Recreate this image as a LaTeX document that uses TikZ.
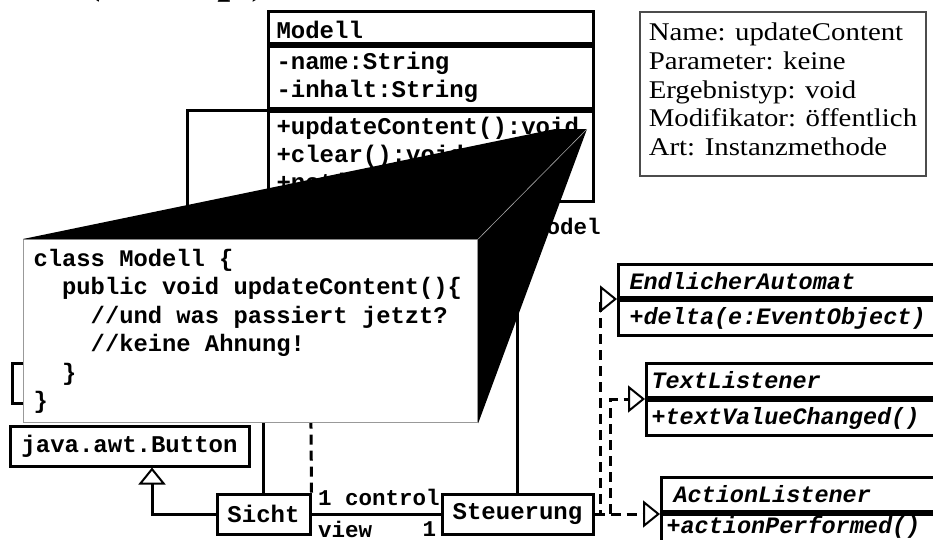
\documentclass[tikz,border=0pt]{standalone}
\usepackage{fontspec}
\setmainfont{Liberation Serif}
\setmonofont{Liberation Mono}
\newfontfamily\notizschrift[FakeStretch=1.13]{Liberation Serif}
\usetikzlibrary{arrows.meta}
\tikzstyle{klasse} = [rectangle, draw=black, line width=3pt, minimum height=40pt, inner sep=0pt, text centered, font=\ttfamily\bfseries\fontsize{24}{28}\selectfont]
\tikzstyle{fach} = [klasse, anchor=north west, minimum width=325pt, text width=309pt, align=left, inner xsep=8pt]
\tikzstyle{schnitt} = [klasse, anchor=north west, minimum width=330pt, text width=320pt, align=left, minimum height=34pt, font=\ttfamily\bfseries\itshape\fontsize{23.5}{28}\selectfont]
\tikzstyle{rolle} = [inner sep=0pt, font=\ttfamily\bfseries\fontsize{22.5}{26}\selectfont]
\tikzstyle{notiz} = [rectangle, draw=black!70, line width=1.5pt, minimum width=285pt, minimum height=164pt, inner xsep=9pt, text depth=9pt, align=left, font=\notizschrift\fontsize{25.5}{28.7}\selectfont]
\tikzstyle{lupe} = [rectangle, fill=white, draw=black!40, line width=1.2pt, minimum width=454pt, minimum height=183pt, text width=434pt, inner xsep=10pt, align=left, font=\ttfamily\bfseries\fontsize{23.8}{28.5}\selectfont, execute at begin node={\spaceskip=0.6em\relax}]
\tikzstyle{linie} = [line width=3pt]
\tikzstyle{erbt} = [linie, -{Triangle[open, length=17pt, width=27pt, line width=2pt]}]
\tikzstyle{abh} = [linie, dash pattern=on 10pt off 6pt]
\tikzstyle{impl} = [erbt, dash pattern=on 10pt off 6pt]

\begin{document}
\begin{tikzpicture}[x=1pt, y=-1pt]
        \useasboundingbox (0,0) rectangle (933,539);
        \node (titel) [anchor=base west, inner sep=0pt, font=\bfseries\itshape\fontsize{46}{50}\selectfont] at (88,-8) {(Konzept)};

        \node (modell) [fach, minimum height=32pt, text height=22pt] at (267,10) {Modell};
        \node (modellAttr) [fach, minimum height=62pt] at (modell.south west) {-name:String\\-inhalt:String};
        \node (modellOps) [fach, minimum height=90pt] at (modellAttr.south west) {+updateContent():void\\+clear():void\\+notify():void};

        \node (steckbrief) [notiz, anchor=north west] at (639,11) {Name: updateContent\\Parameter: keine\\Ergebnistyp: void\\Modifikator: öffentlich\\Art: Instanzmethode};

        \node (verdeckt) [klasse, minimum width=350pt] at (187,383) {};
        \node (button) [klasse, minimum width=239pt] at (129.5,446) {java.awt.Button};
        \node (sicht) [klasse, minimum width=93pt] at (263.5,514) {Sicht};
        \node (steuerung) [klasse, minimum width=151pt] at (517.5,514) {Steuerung};

        \node (endlicher) [schnitt, minimum height=33pt, inner xsep=11pt] at (617,263) {EndlicherAutomat};
        \node (endlicherOps) [schnitt, minimum height=35pt, inner xsep=11pt] at (endlicher.south west) {+delta(e:EventObject)};
        \node (textListener) [schnitt, inner xsep=3pt] at (645,362) {TextListener};
        \node (textListenerOps) [schnitt, minimum height=35pt, inner xsep=3pt] at (textListener.south west) {+textValueChanged()};
        \node (actionListener) [schnitt, inner xsep=12pt] at (660,476) {ActionListener};
        \node (actionListenerOps) [schnitt, minimum height=35pt, inner xsep=2pt, text height=17pt, text depth=14pt] at (actionListener.south west) {+actionPerformed()};

        \coordinate (sichtOben) at (263.5,300);
        \coordinate (sichtAbh) at (310,300);

        \draw [linie] (modellOps.north west) -| (verdeckt.north);
        \draw [linie] (sicht.north) -- (sichtOben);
        \draw [abh] (sicht.north east) -- (sichtAbh);
        \draw [erbt] (sicht.west) -| ([xshift=22.5pt]button.south);
        \draw [linie] (sicht.east) -- (steuerung.west)
            node [rolle, anchor=south west, pos=0, xshift=5pt, yshift=7pt] {1 control}
            node [rolle, anchor=north west, pos=0, xshift=5pt, yshift=-6pt] {view}
            node [rolle, anchor=north east, pos=1, xshift=-3pt, yshift=-6pt] {1};
        \draw [linie] (steuerung.north) -- (steuerung.north |- modellOps.south)
            node [rolle, anchor=north west, xshift=14pt, yshift=-14pt] {model};

        \draw [impl] (steuerung.east) -- (steuerung.east -| actionListener.south west);
        \draw [impl] (steuerung.east) -| ([xshift=-35pt]textListener.south west) -- (textListener.south west);
        \draw [impl] (steuerung.east) -| ([xshift=-17pt]endlicher.south west) -- (endlicher.south west);

        \coordinate (spitzeL) at (555,129);
        \coordinate (spitzeR) at (587,129);
        \node (code) [lupe, anchor=north west] at (23,239) {class Modell \{\\\phantom{xx}public void updateContent()\{\\\phantom{xxxx}//und was passiert jetzt?\\\phantom{xxxx}//keine Ahnung!\\\phantom{xx}\}\\\}};
        \fill [black] (code.north west) -- (spitzeL) -- (spitzeR) -- (code.south east) -- (code.north east) -- cycle;
        \draw [black!35, line width=0.6pt] (spitzeR) -- (code.north east);
\end{tikzpicture}
\end{document}
